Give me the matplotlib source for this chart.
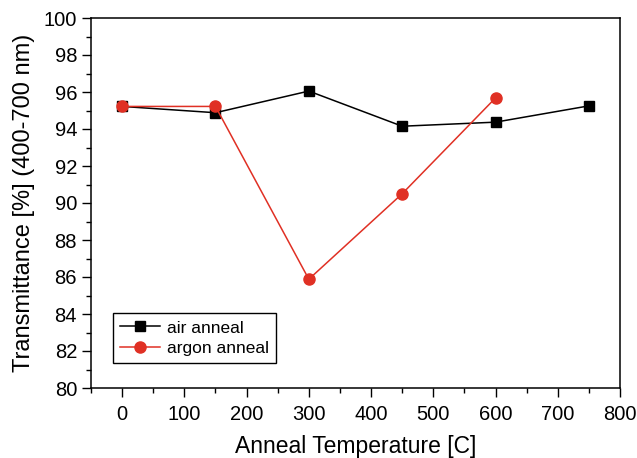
import matplotlib
matplotlib.use("Agg")
import matplotlib.pyplot as plt
from matplotlib.ticker import MultipleLocator

plt.rcParams['font.family'] = ['Liberation Sans', 'DejaVu Sans']

# data
temps_air = [0, 150, 300, 450, 600, 750]
air_anneal = [95.22, 94.88, 96.05, 94.15, 94.37, 95.25]
temps_argon = [0, 150, 300, 450, 600]
argon_anneal = [95.22, 95.22, 85.88, 90.5, 95.68]

fig = plt.figure(figsize=(6.37, 4.58), dpi=100)
ax = fig.add_axes([91/637, 70/458, 529/637, 370/458])

ax.plot(temps_air, air_anneal, color='black', lw=1.1, marker='s', ms=7, label='air anneal')
ax.plot(temps_argon, argon_anneal, color='#e03024', lw=1.1, marker='o', ms=8, label='argon anneal')

ax.set_xlim(-50, 800)
ax.set_ylim(80, 100)
ax.xaxis.set_major_locator(MultipleLocator(100))
ax.xaxis.set_minor_locator(MultipleLocator(50))
ax.yaxis.set_major_locator(MultipleLocator(2))
ax.yaxis.set_minor_locator(MultipleLocator(1))
ax.tick_params(which='major', direction='out', length=6.5, width=1, labelsize=14.5)
ax.tick_params(axis='x', which='major', pad=6)
ax.tick_params(which='minor', direction='out', length=3.5, width=1)
for s in ax.spines.values():
    s.set_linewidth(1.1)

ax.set_xlabel('Anneal Temperature [C]', fontsize=16.5, labelpad=8)
ax.set_ylabel('Transmittance [%] (400-700 nm)', fontsize=17, labelpad=6)

leg = ax.legend(loc='lower left', bbox_to_anchor=(0.042, 0.068), borderaxespad=0,
                fontsize=12.5, fancybox=False, edgecolor='black', framealpha=1,
                handlelength=2.3, handletextpad=0.4, borderpad=0.4, labelspacing=0.3)
leg.get_frame().set_linewidth(1)

fig.savefig('out.png', dpi=100)
